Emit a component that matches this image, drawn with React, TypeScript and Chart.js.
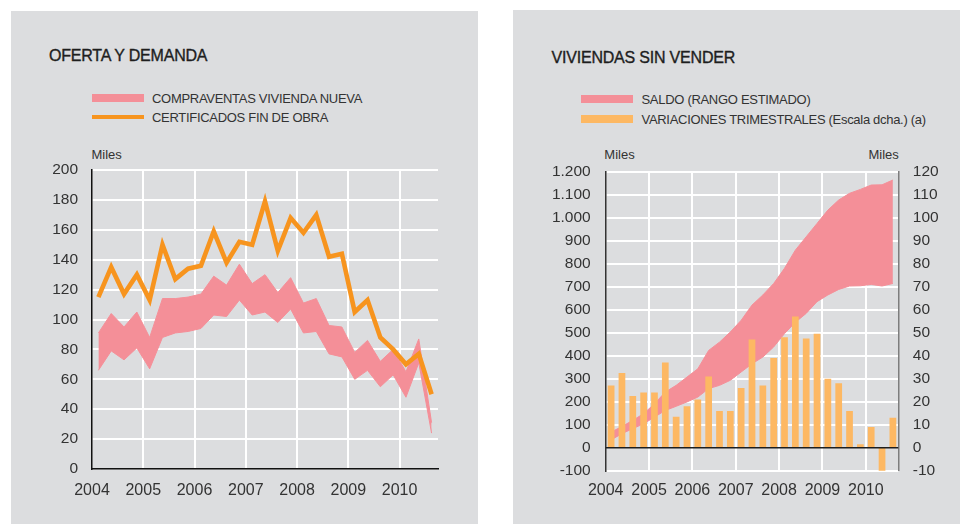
import React, { useEffect, useRef } from "react";
import { Chart, registerables } from "chart.js";
Chart.register(...registerables);

// ---------- DATA ----------
const quarters = [
  "2004Q1", "2004Q2", "2004Q3", "2004Q4",
  "2005Q1", "2005Q2", "2005Q3", "2005Q4",
  "2006Q1", "2006Q2", "2006Q3", "2006Q4",
  "2007Q1", "2007Q2", "2007Q3", "2007Q4",
  "2008Q1", "2008Q2", "2008Q3", "2008Q4",
  "2009Q1", "2009Q2", "2009Q3", "2009Q4",
  "2010Q1", "2010Q2", "2010Q3",
];
const yearTicks = [2004, 2005, 2006, 2007, 2008, 2009, 2010];

// Left chart: OFERTA Y DEMANDA (miles)
const certificadosFinObra = [
  115, 135, 117, 130, 113, 150, 127, 134,
  136, 159, 138, 152, 150, 179, 146, 168,
  158, 170, 142, 144, 105, 113, 88, 80,
  70, 77, 50,
];
const compraventasMax = [
  91, 104, 95, 105, 88, 114, 114, 115,
  117, 129, 123, 137, 124, 130, 118, 128,
  111, 114, 96, 95, 78, 86, 72, 80,
  65, 87, 31,
];
const compraventasMin = [
  66, 79, 73, 81, 67, 88, 91, 92,
  94, 103, 102, 113, 103, 105, 98, 107,
  91, 92, 77, 75, 60, 66, 55, 63,
  48, 71, 24,
];

// Right chart: VIVIENDAS SIN VENDER (miles)
const saldoMax = [
  68, 92, 119, 148, 191, 242, 271, 307,
  343, 423, 459, 503, 554, 620, 664, 714,
  780, 859, 917, 975, 1033, 1077, 1106, 1123,
  1142, 1143, 1164,
];
const saldoMin = [
  34, 61, 83, 104, 133, 162, 180, 199,
  220, 257, 271, 293, 329, 365, 394, 438,
  496, 545, 584, 635, 664, 688, 703, 704,
  710, 703, 714,
];
const variacionesTrimestrales = [
  27, 32.5, 22.5, 24, 24, 37, 13.5, 18,
  21, 31, 16, 16, 26, 47, 27, 39,
  48, 57, 47.5, 49.5, 30, 28, 16, 1.5,
  9, -11, 13,
];

// ---------- STYLE ----------
const BG = "#DCDDDF";
const PINK = "#F48F98";
const ORANGE = "#F7941E";
const BAR = "#FDB863";
const TXT = "#333333";
const FONT = '"Liberation Sans", Arial, Helvetica, sans-serif';

function qx(label: string): number {
  const y = Number(label.slice(0, 4));
  const q = Number(label.slice(5));
  return y + (q - 0.5) / 4;
}
const pts = (vals: number[]) => vals.map((v, i) => ({ x: qx(quarters[i]), y: v }));

const fmtThousands = (v: number) => {
  const a = Math.abs(v);
  const s = a >= 1000 ? `${Math.floor(a / 1000)}.${String(a % 1000).padStart(3, "0")}` : String(a);
  return v < 0 ? `-${s}` : s;
};

const tickFont = { family: FONT, size: 15.5 };
const xFont = { family: FONT, size: 16 };

const setYearTicks = (s: any) => {
  s.ticks = yearTicks.map((v) => ({ value: v }));
};

const zeroLinePlugin = {
  id: "zeroLine",
  afterDatasetsDraw(chart: any) {
    const y = chart.scales.y.getPixelForValue(0);
    const { left, right } = chart.chartArea;
    const ctx = chart.ctx;
    ctx.save();
    ctx.strokeStyle = "#1e1e1e";
    ctx.lineWidth = 1.5;
    ctx.beginPath();
    ctx.moveTo(left, y);
    ctx.lineTo(right, y);
    ctx.stroke();
    ctx.restore();
  },
};

export default function App() {
  const leftRef = useRef<HTMLCanvasElement>(null);
  const rightRef = useRef<HTMLCanvasElement>(null);

  useEffect(() => {
    const left = new Chart(leftRef.current as HTMLCanvasElement, {
      type: "line",
      data: {
        datasets: [
          {
            label: "CERTIFICADOS FIN DE OBRA",
            data: pts(certificadosFinObra),
            borderColor: ORANGE,
            borderWidth: 4.6,
            pointRadius: 0,
            tension: 0,
            fill: false,
            borderJoinStyle: "miter",
          },
          {
            label: "COMPRAVENTAS max",
            data: pts(compraventasMax),
            borderColor: PINK,
            borderWidth: 1,
            backgroundColor: PINK,
            pointRadius: 0,
            tension: 0,
            fill: "+1",
          },
          {
            label: "COMPRAVENTAS min",
            data: pts(compraventasMin),
            borderColor: PINK,
            borderWidth: 1,
            pointRadius: 0,
            tension: 0,
            fill: false,
          },
        ],
      },
      options: {
        animation: false,
        responsive: false,
        events: [],
        layout: { padding: { left: 0, top: 170, right: 42, bottom: 25 } },
        plugins: { legend: { display: false }, tooltip: { enabled: false } },
        scales: {
          x: {
            type: "linear",
            min: 2004,
            max: 2010.75,
            offset: false,
            afterBuildTicks: setYearTicks,
            afterFit: (s: any) => { s.height = 30; },
            grid: {
              offset: false,
              drawTicks: false,
              lineWidth: 2,
              color: (c: any) => (c.tick && c.tick.value === 2004 ? "rgba(0,0,0,0)" : "#ffffff"),
            },
            border: { display: true, color: "#111111", width: 1.5 },
            ticks: { padding: 12, color: TXT, font: xFont, maxRotation: 0, callback: (v: any) => String(v) },
          },
          y: {
            min: 0,
            max: 200,
            afterFit: (s: any) => { s.width = 92; },
            grid: {
              drawTicks: false,
              lineWidth: 2,
              color: (c: any) => (c.tick && c.tick.value === 0 ? "rgba(0,0,0,0)" : "#ffffff"),
            },
            border: { display: true, color: "#111111", width: 1.5 },
            ticks: { stepSize: 20, padding: 14, color: TXT, font: tickFont },
          },
        },
      },
    } as any);

    const right = new Chart(rightRef.current as HTMLCanvasElement, {
      type: "line",
      data: {
        datasets: [
          {
            type: "bar",
            label: "VARIACIONES TRIMESTRALES",
            data: pts(variacionesTrimestrales),
            backgroundColor: BAR,
            borderWidth: 0,
            yAxisID: "y1",
            barPercentage: 0.62,
            categoryPercentage: 1,
          },
          {
            label: "SALDO max",
            data: pts(saldoMax),
            borderColor: PINK,
            borderWidth: 1,
            backgroundColor: PINK,
            pointRadius: 0,
            tension: 0,
            fill: "+1",
            yAxisID: "y",
          },
          {
            label: "SALDO min",
            data: pts(saldoMin),
            borderColor: PINK,
            borderWidth: 1,
            pointRadius: 0,
            tension: 0,
            fill: false,
            yAxisID: "y",
          },
        ],
      },
      options: {
        animation: false,
        responsive: false,
        events: [],
        layout: { padding: { left: 0, top: 171.7, right: 0, bottom: 23.3 } },
        plugins: { legend: { display: false }, tooltip: { enabled: false } },
        scales: {
          x: {
            type: "linear",
            min: 2004,
            max: 2010.75,
            offset: false,
            afterBuildTicks: setYearTicks,
            afterFit: (s: any) => { s.height = 30; },
            grid: {
              offset: false,
              drawTicks: false,
              lineWidth: 2,
              color: (c: any) => (c.tick && c.tick.value === 2004 ? "rgba(0,0,0,0)" : "#ffffff"),
            },
            border: { display: false },
            ticks: { padding: 10, color: TXT, font: xFont, maxRotation: 0, callback: (v: any) => String(v) },
          },
          y: {
            position: "left",
            min: -100,
            max: 1200,
            afterFit: (s: any) => { s.width = 125.7; },
            grid: {
              drawTicks: false,
              lineWidth: 2,
              color: (c: any) => (c.tick && c.tick.value === 0 ? "rgba(0,0,0,0)" : "#ffffff"),
            },
            border: { display: true, color: "#333333", width: 1.5 },
            ticks: { stepSize: 100, padding: 15, color: TXT, font: tickFont, callback: (v: any) => fmtThousands(Number(v)) },
          },
          y1: {
            position: "right",
            min: -10,
            max: 120,
            afterFit: (s: any) => { s.width = 61.7; },
            grid: { display: false, drawTicks: false },
            border: { display: true, color: "#7d7d7d", width: 1.5 },
            ticks: { stepSize: 10, padding: 14.5, color: TXT, font: tickFont },
          },
        },
      },
      plugins: [zeroLinePlugin],
    } as any);

    return () => {
      left.destroy();
      right.destroy();
    };
  }, []);

  const abs = (o: React.CSSProperties): React.CSSProperties => ({ position: "absolute", ...o });
  const title: React.CSSProperties = {
    fontSize: 16, lineHeight: "16px", color: "#1e1e1e", letterSpacing: "-0.2px", whiteSpace: "nowrap",
    WebkitTextStroke: "0.35px #1e1e1e",
  };
  const leg: React.CSSProperties = { fontSize: 13, lineHeight: "13px", color: TXT, letterSpacing: "-0.3px", whiteSpace: "nowrap" };
  const miles: React.CSSProperties = { fontSize: 13, lineHeight: "13px", color: TXT, whiteSpace: "nowrap" };

  return (
    <div style={abs({ left: 0, top: 0, width: 960, height: 524, background: "#ffffff", overflow: "hidden", fontFamily: FONT })}>
      <div style={abs({ left: 11, top: 11, width: 467, height: 513, background: BG })} />
      <div style={abs({ left: 513, top: 10, width: 447, height: 514, background: BG })} />

      <div style={abs({ left: 49, top: 48, ...title })}>OFERTA Y DEMANDA</div>
      <div style={abs({ left: 92, top: 94, width: 52, height: 8, background: PINK })} />
      <div style={abs({ left: 152, top: 91.5, ...leg })}>COMPRAVENTAS VIVIENDA NUEVA</div>
      <div style={abs({ left: 92, top: 115, width: 52, height: 4, background: ORANGE })} />
      <div style={abs({ left: 152, top: 110.7, ...leg })}>CERTIFICADOS FIN DE OBRA</div>
      <div style={abs({ left: 91.5, top: 148.3, ...miles })}>Miles</div>

      <div style={abs({ left: 551.5, top: 49.6, ...title })}>VIVIENDAS SIN VENDER</div>
      <div style={abs({ left: 581, top: 95, width: 52, height: 8, background: PINK })} />
      <div style={abs({ left: 641.5, top: 92.7, ...leg })}>SALDO (RANGO ESTIMADO)</div>
      <div style={abs({ left: 581, top: 115, width: 52, height: 8, background: BAR })} />
      <div style={abs({ left: 641.5, top: 112.7, ...leg })}>VARIACIONES TRIMESTRALES (Escala dcha.) (a)</div>
      <div style={abs({ left: 604.3, top: 148.3, ...miles })}>Miles</div>
      <div style={abs({ left: 868.5, top: 148.3, ...miles })}>Miles</div>

      <canvas ref={leftRef} width={480} height={524} style={abs({ left: 0, top: 0 })} />
      <canvas ref={rightRef} width={480} height={524} style={abs({ left: 480, top: 0 })} />
    </div>
  );
}
